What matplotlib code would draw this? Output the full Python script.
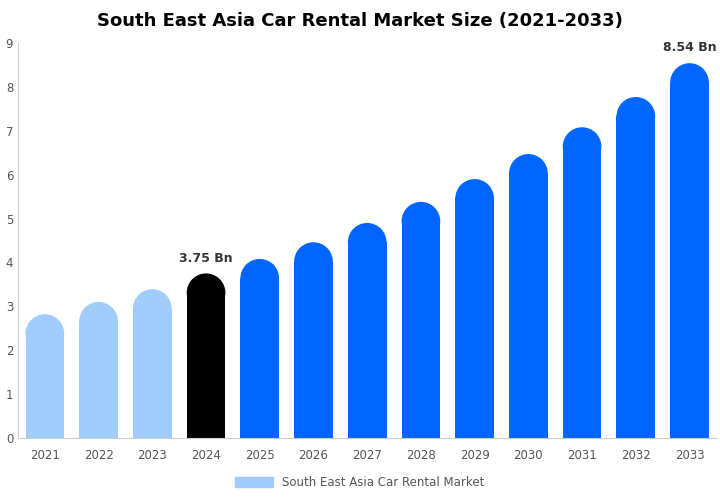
import matplotlib.pyplot as plt
from matplotlib.patches import Ellipse, Patch

years = ['2021', '2022', '2023', '2024', '2025', '2026', '2027',
         '2028', '2029', '2030', '2031', '2032', '2033']
values = [2.82, 3.10, 3.39, 3.75, 4.08, 4.46, 4.90, 5.38, 5.90, 6.47, 7.08, 7.77, 8.54]
colors = ['#a0cdfb'] * 3 + ['#000000'] + ['#0066ff'] * 9
labels = {3: '3.75 Bn', 12: '8.54 Bn'}

fig = plt.figure(figsize=(7.2, 5), dpi=100)
ax = fig.add_axes([0.025, 0.124, 0.97, 0.79])

w = 0.72
ylim = 9
ax.set_xlim(-0.5, len(years) - 0.5)
ax.set_ylim(0, ylim)

# radius of the round cap in data units (keep it circular on screen)
bbox = ax.get_window_extent()
px_x = bbox.width / len(years)
px_y = bbox.height / ylim
r_y = (w * px_x / 2) / px_y

for i, (v, c) in enumerate(zip(values, colors)):
    ax.bar(i, v - r_y, width=w, color=c, linewidth=0)
    ax.add_patch(Ellipse((i, v - r_y), w, 2 * r_y, color=c, linewidth=0))
    if i in labels:
        ax.text(i, v + 0.2, labels[i], ha='center', va='bottom',
                fontsize=9, fontweight='bold', color='#333333')

ax.set_xticks(range(len(years)))
ax.set_xticklabels(years)
ax.set_yticks(range(10))
ax.tick_params(axis='both', labelsize=8.5, colors='#555555', length=0)
ax.tick_params(axis='x', pad=8)
for s in ['top', 'right']:
    ax.spines[s].set_visible(False)
for s in ['left', 'bottom']:
    ax.spines[s].set_color('#cccccc')

fig.suptitle('South East Asia Car Rental Market Size (2021-2033)',
             fontsize=13, fontweight='bold', y=0.975)
fig.legend(handles=[Patch(color='#a0cdfb', label='South East Asia Car Rental Market')],
           loc='lower center', bbox_to_anchor=(0.5, 0.0), frameon=False,
           fontsize=8.5, handlelength=3.2, handleheight=0.9, labelcolor='#555555')

fig.savefig('out.png')
